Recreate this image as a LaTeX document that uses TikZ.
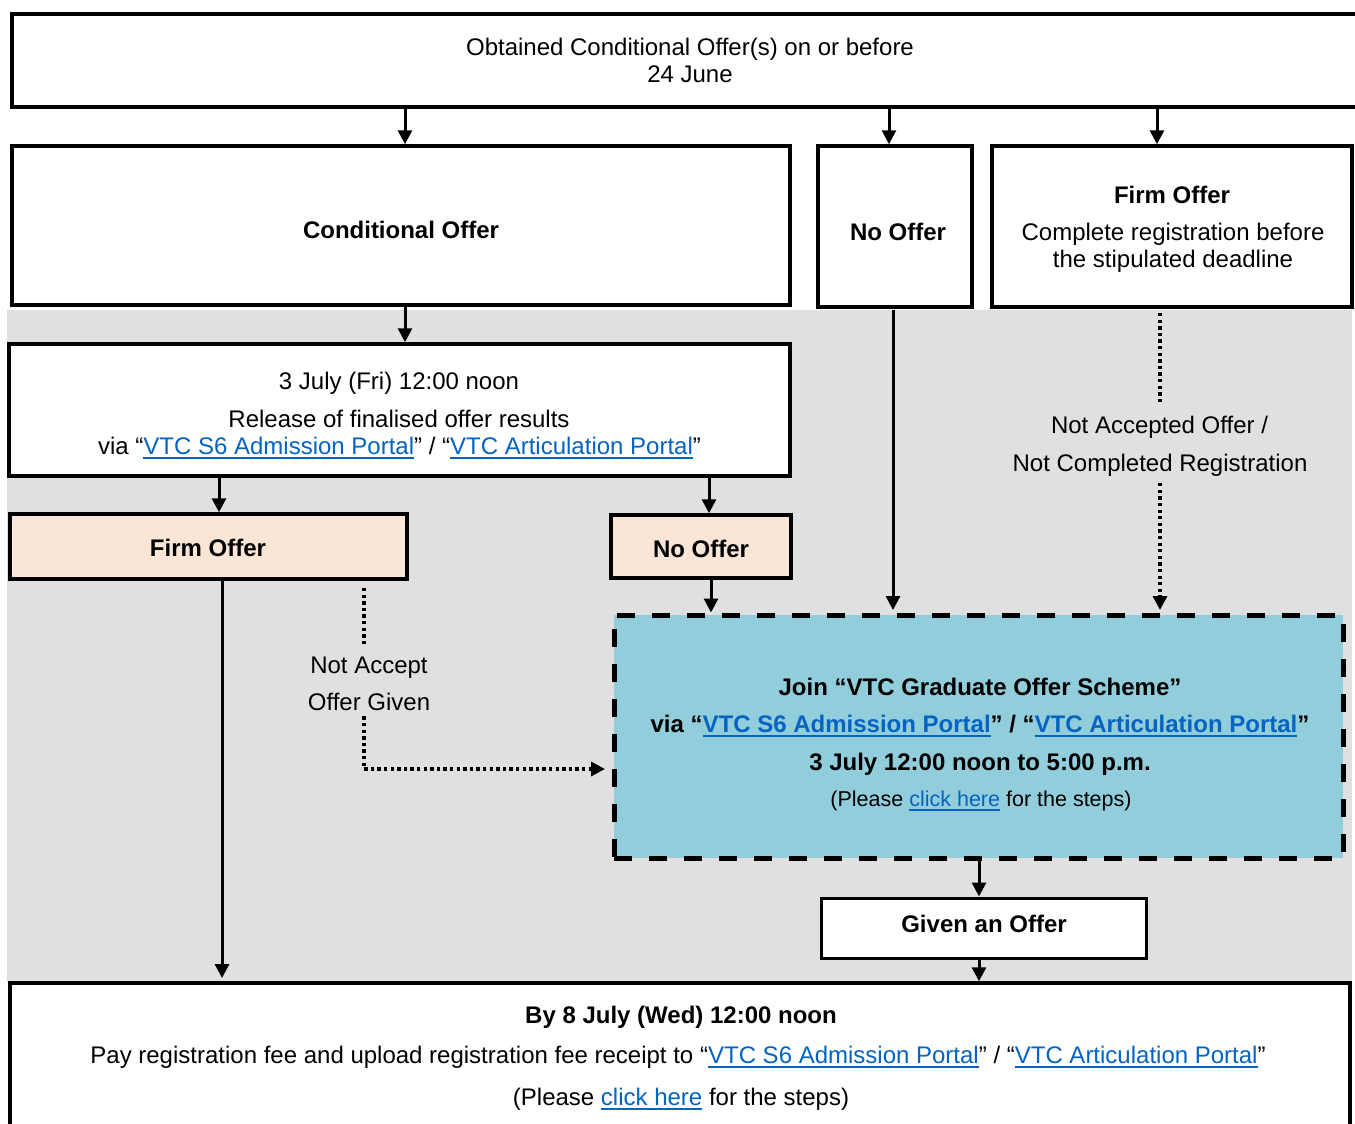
\documentclass[tikz,border=0pt]{standalone}
\usepackage{fontspec}
\setmainfont{Liberation Sans}
\usetikzlibrary{arrows.meta}
\definecolor{gbg}{HTML}{E0E0E0}
\definecolor{peach}{HTML}{FBE5D6}
\definecolor{aqua}{HTML}{92CDDC}
\definecolor{lk}{HTML}{0563C1}
\newcommand\lnk[1]{{\color{lk}\setbox0=\hbox{#1}\rlap{\rule[-4.5pt]{\wd0}{2pt}}\box0}}
\begin{document}
\begin{tikzpicture}[x=1pt,y=-1pt,
  box/.style={draw, line width=3.5pt, fill=white, inner sep=0pt},
  peachbox/.style={box, fill=peach},
  gosbox/.style={draw, line width=5pt, fill=aqua, inner sep=0pt, dash pattern=on 18pt off 17pt},
  txt/.style={anchor=base, inner sep=0pt, font=\fontsize{24}{28}\selectfont},
  btxt/.style={anchor=base, inner sep=0pt, font=\fontsize{24}{28}\selectfont\bfseries},
  stxt/.style={anchor=base, inner sep=0pt, font=\fontsize{21.5}{26}\selectfont},
  arr/.style={line width=3pt, -{Triangle[length=14pt,width=14pt]}},
  dotl/.style={line width=3.3pt, dash pattern=on 3.3pt off 3.3pt},
  darr/.style={dotl, -{Triangle[length=14pt,width=14pt]}}]
\clip (0,0) rectangle (1355,1124);
\fill[gbg] (7,310) rectangle (1352,982);

% boxes
\node[box, minimum width=1356pt, minimum height=93pt] (top) at (690,60.5) {};
\node[box, minimum width=778pt, minimum height=159pt] (cond) at (401,225.5) {};
\node[box, minimum width=154pt, minimum height=161pt] (noA) at (895,226.5) {};
\node[box, minimum width=360pt, minimum height=161pt] (firmA) at (1172,226.5) {};
\node[box, minimum width=781pt, minimum height=132pt] (rel) at (399.5,410) {};
\node[peachbox, minimum width=397pt, minimum height=65pt] (pfirm) at (208.5,546.5) {};
\node[peachbox, minimum width=180pt, minimum height=63pt] (pno) at (701,546.5) {};
\node[gosbox, minimum width=729pt, minimum height=243pt] (gos) at (978.5,736.5) {};
\node[box, line width=3pt, minimum width=325pt, minimum height=60pt] (given) at (983.5,928) {};
\node[box, minimum width=1340pt, minimum height=157pt] (final) at (680,1061.5) {};

% texts
\node[txt] (t1) at (690,56) {Obtained Conditional Offer(s) on or before};
\node[txt] (t2) at (690,83) {24 June};
\node[btxt] (tcond) at (401,238) {Conditional Offer};
\node[btxt] (tnoA) at (898,240) {No Offer};
\node[btxt] (tfirmA) at (1172,203) {Firm Offer};
\node[txt] (tfirmA2) at (1173,240) {Complete registration before};
\node[txt] (tfirmA3) at (1173,267) {the stipulated deadline};
\node[txt] (trel1) at (399,389) {3 July (Fri) 12:00 noon};
\node[txt] (trel2) at (399,427) {Release of finalised offer results};
\node[txt] (trel3) at (399.5,454) {via “\lnk{VTC S6 Admission Portal}” / “\lnk{VTC Articulation Portal}”};
\node[btxt] (tpfirm) at (208,556) {Firm Offer};
\node[btxt] (tpno) at (701,557) {No Offer};
\node[txt] (na1) at (1159.5,433) {Not Accepted Offer /};
\node[txt] (na2) at (1160,471) {Not Completed Registration};
\node[txt] (nac1) at (369,673) {Not Accept};
\node[txt] (nac2) at (369,710) {Offer Given};
\node[btxt] (g1) at (980,695) {Join “VTC Graduate Offer Scheme”};
\node[btxt] (g2) at (980,732) {via “\lnk{VTC S6 Admission Portal}” / “\lnk{VTC Articulation Portal}”};
\node[btxt] (g3) at (980,770) {3 July 12:00 noon to 5:00 p.m.};
\node[stxt] (g4) at (981,806) {(Please \lnk{click here} for the steps)};
\node[btxt] (tgiven) at (984,932) {Given an Offer};
\node[btxt] (f1) at (681,1023) {By 8 July (Wed) 12:00 noon};
\node[txt] (f2) at (678,1063) {Pay registration fee and upload registration fee receipt to “\lnk{VTC S6 Admission Portal}” / “\lnk{VTC Articulation Portal}”};
\node[txt] (f3) at (681,1105) {(Please \lnk{click here} for the steps)};

% connectors
\draw[arr] ([xshift=4]cond.north |- top.south) -- ([xshift=4]cond.north);
\draw[arr] ([xshift=-6]noA.north |- top.south) -- ([xshift=-6]noA.north);
\draw[arr] ([xshift=-15]firmA.north |- top.south) -- ([xshift=-15]firmA.north);
\draw[arr] ([xshift=4]cond.south) -- ([xshift=4]cond.south |- rel.north);
\draw[arr] ([xshift=10.5]pfirm.north |- rel.south) -- ([xshift=10.5]pfirm.north);
\draw[arr] ([xshift=8]pno.north |- rel.south) -- ([xshift=8]pno.north);
\draw[arr] ([xshift=10]pno.south) -- ([xshift=10]pno.south |- gos.north);
\draw[arr, shorten <=1pt, shorten >=2.5pt] ([xshift=-2]noA.south) -- ([xshift=-2]noA.south |- gos.north);
\draw[dotl, shorten <=4.25pt, shorten >=11.4pt] ([xshift=-12]firmA.south) -- ([xshift=-12]firmA.south |- na1.north);
\draw[darr, shorten <=7pt, shorten >=2.5pt] (na2.south) -- (na2.south |- gos.north);
\draw[arr, shorten >=3.25pt] ([xshift=13.5]pfirm.south) -- ([xshift=13.5]pfirm.south |- final.north);
\draw[dotl, shorten <=7.25pt, shorten >=10pt] ([xshift=155.5]pfirm.south) -- ([xshift=155.5]pfirm.south |- nac1.north);
\draw[darr, shorten <=6pt, shorten >=6.5pt] ([xshift=-5]nac2.south) |- ([yshift=-32.5]gos.west);
\draw[arr] ([xshift=0.5]gos.south) -- ([xshift=0.5]gos.south |- given.north);
\draw[arr] ([xshift=-4.5]given.south) -- ([xshift=-4.5]given.south |- final.north);
\end{tikzpicture}
\end{document}
